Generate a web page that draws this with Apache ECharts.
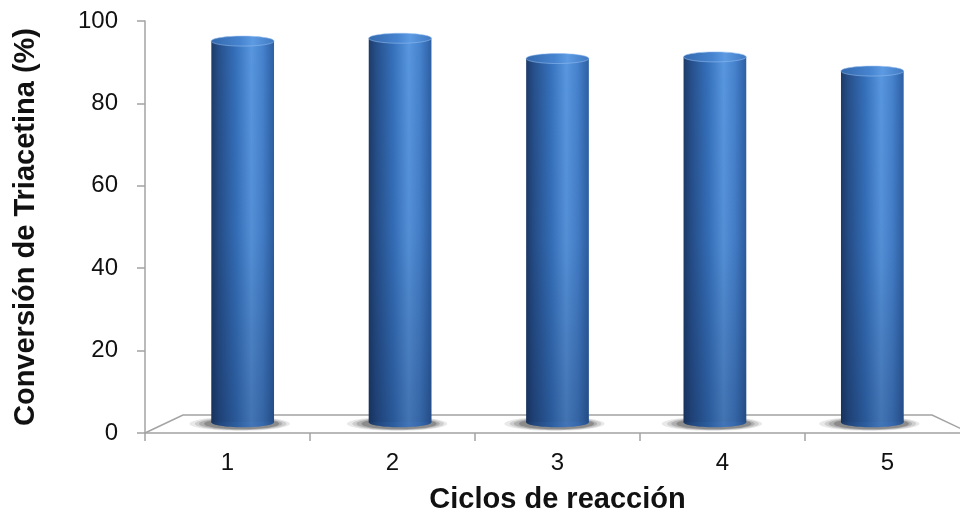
<!DOCTYPE html>
<html>
<head>
<meta charset="utf-8">
<script src="https://cdn.jsdelivr.net/npm/echarts@6/dist/echarts.min.js"></script>
<style>
  html, body { margin: 0; padding: 0; background: #ffffff; }
  #chart { width: 960px; height: 512px; }
</style>
</head>
<body>
<div id="chart"></div>
<script>
// Reaction cycles and triacetin conversion (%)
const ciclos = ['1', '2', '3', '4', '5'];
const conversion = [94.1, 94.8, 89.8, 90.2, 86.7];
const yTicks = [0, 20, 40, 60, 80, 100];

const FONT = '"Liberation Sans", Arial, sans-serif';
const AXIS_GREY = '#a3a3a3';

// Perspective settings for the pseudo-3D floor and the cylinders
const FLOOR_DEPTH = 18;      // px between front and back floor edge
const FLOOR_INSET = 0.092;   // horizontal narrowing of the back edge
const BAR_FRACTION = 0.38;   // cylinder width relative to category band

function hGrad(stops) {
  return new echarts.graphic.LinearGradient(0, 0, 1, 0,
    stops.map(function (s) { return { offset: s[0], color: s[1] }; }));
}

function renderFloor(params, api) {
  const cs = params.coordSys;
  const x0 = cs.x, x1 = cs.x + cs.width, yF = cs.y + cs.height;
  const inset = cs.width / 2 * FLOOR_INSET;
  return {
    type: 'polyline',
    shape: {
      points: [[x0, yF], [x0 + inset, yF - FLOOR_DEPTH],
               [x1 - inset, yF - FLOOR_DEPTH], [x1, yF]]
    },
    style: { stroke: AXIS_GREY, lineWidth: 1.5, fill: null },
    silent: true
  };
}

function renderCylinder(params, api) {
  const cs = params.coordSys;
  const midX = cs.x + cs.width / 2;
  const idx = api.value(0);
  const val = api.value(1);
  const pBase = api.coord([idx, 0]);
  const pTop = api.coord([idx, val]);
  const band = api.size([1, 0])[0];

  // place the cylinder half way into the floor depth
  const cx = pBase[0] + (midX - pBase[0]) * FLOOR_INSET / 2;
  const yb = pBase[1] - FLOOR_DEPTH * 0.6;
  const yt = yb - (pBase[1] - pTop[1]) * 0.983;
  const rx = band * BAR_FRACTION / 2;
  const ry = 5;

  const bodyGrad = hGrad([
    [0, '#1d3b68'], [0.12, '#264f8a'], [0.4, '#3672bd'],
    [0.64, '#5896df'], [0.82, '#4682cd'], [1, '#2d5fa3']
  ]);
  const baseGrad = hGrad([
    [0, '#1a355e'], [0.12, '#21467c'], [0.4, '#2c5e9f'],
    [0.64, '#4275b8'], [0.82, '#3668ad'], [1, '#24508c']
  ]);
  const topGrad = hGrad([
    [0, '#3469ad'], [0.45, '#4683cf'], [0.66, '#5c9ae2'], [1, '#3f79c2']
  ]);

  const children = [];
  // soft floor shadow around the base, heavier to the left
  const shadowSteps = [
    [1.6, 7, 0.10, -3], [1.46, 6.5, 0.14, -2],
    [1.33, 6, 0.19, -2], [1.2, 5.5, 0.26, -1]
  ];
  shadowSteps.forEach(function (s) {
    children.push({
      type: 'ellipse',
      shape: { cx: cx + s[3], cy: yb + 1.5, rx: rx * s[0], ry: s[1] },
      style: { fill: 'rgba(40,40,40,' + s[2] + ')' },
      silent: true
    });
  });
  // rounded bottom
  children.push({
    type: 'ellipse',
    shape: { cx: cx, cy: yb, rx: rx, ry: ry },
    style: { fill: baseGrad }
  });
  // cylinder body
  children.push({
    type: 'rect',
    shape: { x: cx - rx, y: yt, width: rx * 2, height: yb - yt },
    style: { fill: bodyGrad }
  });
  // darker toward the floor
  children.push({
    type: 'rect',
    shape: { x: cx - rx, y: yt, width: rx * 2, height: yb - yt },
    style: {
      fill: new echarts.graphic.LinearGradient(0, 0, 0, 1, [
        { offset: 0, color: 'rgba(10,25,60,0)' },
        { offset: 0.5, color: 'rgba(10,25,60,0.06)' },
        { offset: 1, color: 'rgba(10,25,60,0.28)' }
      ])
    },
    silent: true
  });
  // top cap
  children.push({
    type: 'ellipse',
    shape: { cx: cx, cy: yt, rx: rx, ry: ry },
    style: { fill: topGrad, stroke: 'rgba(150,190,240,0.7)', lineWidth: 0.8 }
  });
  return { type: 'group', children: children };
}

const chart = echarts.init(document.getElementById('chart'), null, { renderer: 'canvas' });

chart.setOption({
  backgroundColor: '#ffffff',
  animation: false,
  grid: {
    left: 145, right: -10, top: 21, bottom: 79,
    containLabel: false,
    outerBoundsMode: 'none'
  },
  xAxis: {
    type: 'category',
    data: ciclos,
    name: 'Ciclos de reacción',
    nameLocation: 'middle',
    nameGap: 52,
    nameTextStyle: { fontFamily: FONT, fontSize: 29, fontWeight: 'bold', color: '#111' },
    axisLine: { lineStyle: { color: AXIS_GREY, width: 1.5 } },
    axisTick: { show: true, length: 8, alignWithLabel: false, lineStyle: { color: AXIS_GREY, width: 1.5 } },
    axisLabel: { fontFamily: FONT, fontSize: 24, color: '#111', margin: 18 },
    splitLine: { show: false }
  },
  yAxis: {
    type: 'value',
    min: yTicks[0],
    max: yTicks[yTicks.length - 1],
    interval: yTicks[1] - yTicks[0],
    name: 'Conversión de Triacetina (%)',
    nameLocation: 'middle',
    nameGap: 105,
    nameTextStyle: { fontFamily: FONT, fontSize: 29, fontWeight: 'bold', color: '#111' },
    axisLine: { show: true, lineStyle: { color: AXIS_GREY, width: 1.5 } },
    axisTick: { show: true, length: 8, lineStyle: { color: AXIS_GREY, width: 1.5 } },
    axisLabel: { fontFamily: FONT, fontSize: 24, color: '#111', margin: 27 },
    splitLine: { show: false }
  },
  series: [
    {
      type: 'custom',
      name: 'floor',
      renderItem: renderFloor,
      data: [[0, 0]],
      z: 1,
      silent: true
    },
    {
      type: 'custom',
      name: 'Conversión',
      renderItem: renderCylinder,
      data: ciclos.map(function (c, i) { return [i, conversion[i]]; }),
      encode: { x: 0, y: 1 },
      z: 3
    }
  ]
});
</script>
</body>
</html>
